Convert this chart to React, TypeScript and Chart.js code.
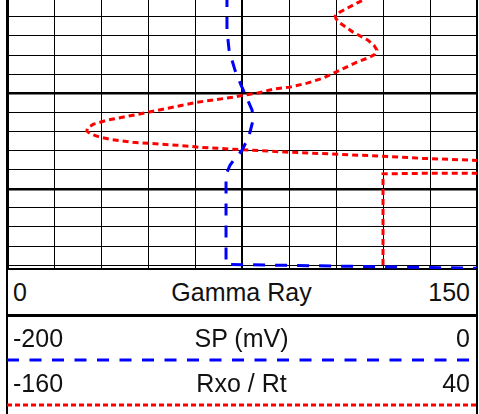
import React, { useEffect, useRef } from "react";
import { Chart, registerables } from "chart.js";

Chart.register(...registerables);

// Depth axis (one grid line per unit, heavy line every 5 units)
const depthMin = 0.12;
const depthMax = 14.2;
const depthGridLines = [1, 2, 3, 4, 5, 6, 7, 8, 9, 10, 11, 12, 13, 14];

// Track scales
const gammaRayScale = [0, 150];
const spScale = [-200, 0];
const rxoScale = [-160, 40];

// SP curve (mV) vs depth
const spDepth = [-0.14, 1.69, 2.74, 3.79, 4.58, 5.26, 5.89, 6.41, 7.04, 7.57, 7.99, 8.41, 8.77, 9.14, 9.56, 13.96, 14.17];
const spValues = [-106.4, -106.4, -105.5, -103.0, -100.4, -97.9, -95.7, -95.3, -96.6, -98.3, -100.0, -103.0, -105.1, -106.4, -106.8, -106.8, 5.5];

// Rxo / Rt curve vs depth
const rxoDepth = [-0.3, 0.28, 0.75, 0.96, 1.1, 1.33, 1.8, 2.22, 2.5, 2.74, 2.98, 3.16, 3.37, 3.79, 4.21, 4.47, 4.68, 4.79, 5.0, 5.1, 5.21, 5.47, 6.05, 6.41, 6.62, 6.82, 6.98, 7.13, 7.3, 7.41, 7.57, 7.72, 7.83, 7.93, 7.96, 8.09, 8.2, 8.3, 8.41, 8.51, 8.67, 9.19, 9.19, 9.22, 15.3];
const rxoValues = [-1.3, -11.1, -18.3, -20.3, -20.0, -18.3, -12.8, -6.4, -3.8, -2.6, -3.6, -6.6, -11.1, -18.3, -25.5, -32.3, -39.6, -46.8, -53.6, -59.6, -63.8, -79.1, -102.1, -117.4, -123.2, -125.8, -126.0, -124.4, -120.4, -116.2, -106.4, -87.7, -77.9, -63.8, -59.6, -39.6, -18.3, 0, 17.0, 38.3, 92.3, 92.3, 18.7, 0, 0];

// Header labels
const trackNames = ["Gamma Ray", "SP (mV)", "Rxo / Rt"];
const trackMins = [gammaRayScale[0], spScale[0], rxoScale[0]];
const trackMaxs = [gammaRayScale[1], spScale[1], rxoScale[1]];

const FONT = "'Liberation Sans', Arial, sans-serif";

function HeaderRow({ top, height, idx }: { top: number; height: number; idx: number }) {
  return (
    <div
      style={{
        position: "absolute",
        left: 8,
        top,
        width: 468,
        height,
        display: "grid",
        gridTemplateColumns: "1fr auto 1fr",
        alignItems: "center",
        boxSizing: "border-box",
        padding: "0 6px 0 5px",
        fontFamily: FONT,
        fontSize: 25,
        color: "#111",
        lineHeight: 1,
      }}
    >
      <span style={{ textAlign: "left" }}>{trackMins[idx]}</span>
      <span style={{ textAlign: "center" }}>{trackNames[idx]}</span>
      <span style={{ textAlign: "right" }}>{trackMaxs[idx]}</span>
    </div>
  );
}

export default function App() {
  const ref = useRef<HTMLCanvasElement>(null);

  useEffect(() => {
    const chart = new Chart(ref.current!, {
      type: "scatter",
      data: {
        datasets: [
          {
            label: "SP (mV)",
            data: spDepth.map((d, i) => ({ x: spValues[i], y: d })),
            xAxisID: "x",
            yAxisID: "y",
            showLine: true,
            borderColor: "#0000ff",
            backgroundColor: "#0000ff",
            borderWidth: 3,
            borderDash: [12, 10],
            pointRadius: 0,
            tension: 0,
          },
          {
            label: "Rxo / Rt",
            data: rxoDepth.map((d, i) => ({ x: rxoValues[i], y: d })),
            xAxisID: "xr",
            yAxisID: "y",
            showLine: true,
            borderColor: "#ff0000",
            backgroundColor: "#ff0000",
            borderWidth: 3,
            borderDash: [6, 4],
            pointRadius: 0,
            tension: 0,
          },
        ],
      },
      options: {
        responsive: true,
        maintainAspectRatio: false,
        animation: false,
        events: [],
        layout: { padding: { left: 7, right: 2, top: 0, bottom: 1 } },
        plugins: { legend: { display: false }, tooltip: { enabled: false } },
        scales: {
          x: {
            type: "linear",
            position: "bottom",
            min: spScale[0],
            max: spScale[1],
            ticks: { display: false, stepSize: 20 },
            grid: {
              color: "#000",
              drawTicks: false,
              lineWidth: (ctx: any) => {
                const v = ctx.tick ? ctx.tick.value : 0;
                if (v === -100 || v === 0) return 2;
                return 1;
              },
            },
            border: { display: true, color: "#000", width: 2 },
          },
          xr: {
            type: "linear",
            position: "top",
            min: rxoScale[0],
            max: rxoScale[1],
            display: false,
          },
          y: {
            type: "linear",
            reverse: true,
            min: depthMin,
            max: depthMax,
            afterBuildTicks: (scale: any) => {
              scale.ticks = depthGridLines.map((v) => ({ value: v }));
            },
            ticks: { display: false },
            grid: {
              color: "#000",
              drawTicks: false,
              lineWidth: (ctx: any) => (ctx.tick && ctx.tick.value % 5 === 0 ? 2.5 : 1),
            },
            border: { display: true, color: "#000", width: 3 },
          },
        },
      },
    });
    return () => chart.destroy();
  }, []);

  return (
    <div style={{ position: "absolute", left: 0, top: 0, width: 479, height: 414, overflow: "hidden", background: "#fff" }}>
      <div style={{ position: "absolute", left: 0, top: 0, width: 479, height: 270 }}>
        <canvas ref={ref} />
      </div>
      {/* header frame */}
      <div style={{ position: "absolute", left: 6, top: 268, width: 2, height: 146, background: "#000" }} />
      <div style={{ position: "absolute", left: 476, top: 268, width: 2, height: 146, background: "#000" }} />
      <HeaderRow top={270} height={44} idx={0} />
      <div style={{ position: "absolute", left: 6, top: 314, width: 472, height: 3, background: "#000" }} />
      <HeaderRow top={317} height={42} idx={1} />
      <svg style={{ position: "absolute", left: 7, top: 357 }} width={470} height={6}>
        <line x1={0} y1={3} x2={470} y2={3} stroke="#0000ff" strokeWidth={3} strokeDasharray="12 10.5" />
      </svg>
      <HeaderRow top={362} height={43} idx={2} />
      <svg style={{ position: "absolute", left: 7, top: 402 }} width={470} height={6}>
        <line x1={0} y1={3} x2={470} y2={3} stroke="#ff0000" strokeWidth={3} strokeDasharray="5 3" />
      </svg>
    </div>
  );
}
